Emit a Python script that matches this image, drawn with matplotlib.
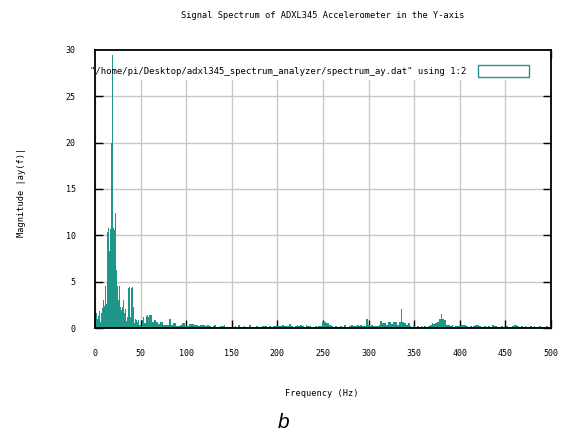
import numpy as np
import matplotlib
matplotlib.use("Agg")
import matplotlib.pyplot as plt
from matplotlib.patches import Rectangle

# --- Data ---

# 0..59 Hz, 1 Hz bins
freq_low = np.arange(0, 60, 1)
mag_low = [
    2.8, 1.5, 1.6, 1.0, 1.3, 1.8, 0.7, 1.6, 2.2, 3.0,
    2.4, 1.5, 4.5, 2.6, 10.4, 10.8, 8.3, 10.7, 20.0, 29.5,
    10.8, 10.6, 12.4, 9.9, 6.3, 4.5, 3.0, 4.5, 2.3, 1.9,
    2.3, 3.0, 1.6, 2.1, 1.4, 0.8, 1.2, 4.3, 4.4, 1.2,
    4.3, 4.4, 2.3, 0.5, 1.0, 0.7, 0.9, 0.6, 0.9, 0.3,
    0.3, 0.2, 0.9, 1.2, 0.5, 0.5, 1.3, 0.6, 1.4, 1.2,
]

# 60..498 Hz, 2 Hz bins
freq_high = np.arange(60, 500, 2)
mag_high = [
    1.4, 1.4, 0.7, 0.9, 0.6, 0.4, 0.7, 0.6, 0.3, 0.3,
    0.3, 1.0, 0.3, 0.5, 0.5, 0.25, 0.2, 0.3, 0.5, 0.5,
    0.2, 0.2, 0.4, 0.4, 0.4, 0.3, 0.3, 0.2, 0.3, 0.3,
    0.3, 0.2, 0.3, 0.2, 0.15, 0.2, 0.3, 0.15, 0.1, 0.2,
    0.2, 0.3, 0.15, 0.1, 0.1, 0.15, 0.1, 0.2, 0.1, 0.3,
    0.15, 0.1, 0.2, 0.15, 0.1, 0.3, 0.1, 0.15, 0.1, 0.2,
    0.1, 0.15, 0.2, 0.25, 0.2, 0.15, 0.2, 0.1, 0.2, 0.25,
    0.2, 0.25, 0.2, 0.3, 0.2, 0.25, 0.2, 0.4, 0.2, 0.15,
    0.2, 0.3, 0.25, 0.3, 0.2, 0.15, 0.3, 0.2, 0.25, 0.15,
    0.1, 0.2, 0.15, 0.2, 0.2, 0.7, 0.6, 0.5, 0.5, 0.3,
    0.2, 0.15, 0.2, 0.1, 0.15, 0.2, 0.1, 0.3, 0.15, 0.1,
    0.2, 0.3, 0.25, 0.2, 0.3, 0.2, 0.3, 0.25, 0.2, 1.0,
    0.3, 0.2, 0.3, 0.2, 0.25, 0.2, 0.3, 0.8, 0.5, 0.5,
    0.3, 0.7, 0.7, 0.4, 0.6, 0.6, 0.3, 0.7, 2.1, 0.7,
    0.5, 0.3, 0.5, 0.2, 0.1, 0.2, 0.15, 0.2, 0.1, 0.2,
    0.15, 0.2, 0.1, 0.2, 0.3, 0.5, 0.4, 0.5, 0.6, 1.0,
    1.5, 1.0, 0.9, 0.3, 0.3, 0.2, 0.3, 0.15, 0.2, 0.2,
    0.2, 0.3, 0.3, 0.3, 0.2, 0.15, 0.2, 0.1, 0.2, 0.3,
    0.3, 0.2, 0.15, 0.1, 0.2, 0.15, 0.2, 0.1, 0.3, 0.25,
    0.2, 0.1, 0.15, 0.2, 0.1, 0.15, 0.2, 0.1, 0.15, 0.2,
    0.35, 0.3, 0.2, 0.15, 0.2, 0.1, 0.2, 0.15, 0.1, 0.2,
    0.15, 0.2, 0.1, 0.15, 0.2, 0.1, 0.15, 0.1, 0.2, 0.15,
]

title = "Signal Spectrum of ADXL345 Accelerometer in the Y-axis"
key_label = '"/home/pi/Desktop/adxl345_spectrum_analyzer/spectrum_ay.dat" using 1:2'
x_ticks = np.arange(0, 501, 50)
y_ticks = np.arange(0, 31, 5)

teal = "#1f968a"
mono = "DejaVu Sans Mono"

# --- Plot ---
fig = plt.figure(figsize=(5.69, 4.33), dpi=100)
ax = fig.add_axes([95 / 569, 1 - 328 / 433, 456 / 569, 278 / 433])

ax.bar(freq_low, mag_low, width=1.0, color=teal, linewidth=0, zorder=3)
ax.bar(freq_high, mag_high, width=2.0, color=teal, linewidth=0, zorder=3)

ax.set_xlim(0, 500)
ax.set_ylim(0, 30)
ax.set_xticks(x_ticks)
ax.set_yticks(y_ticks)
ax.grid(True, color="#c8c8c8", linewidth=1.0, zorder=0)
ax.set_axisbelow(True)

ax.tick_params(direction="in", length=5.5, width=1.0, top=True, right=True,
               labelsize=6, colors="black")
ax.tick_params(axis="y", pad=14)
ax.tick_params(axis="x", pad=15)
for lab in ax.get_xticklabels() + ax.get_yticklabels():
    lab.set_family(mono)
for sp in ax.spines.values():
    sp.set_linewidth(1.3)
    sp.set_zorder(5)

# key area (gnuplot clears the grid behind the key)
ax.add_patch(Rectangle((0, 0.892), 1, 0.108, transform=ax.transAxes,
                       facecolor="white", edgecolor="none", zorder=1))
ax.text(0.815, 0.922, key_label, transform=ax.transAxes, ha="right", va="center",
        fontsize=6.5, family=mono, zorder=6)
ax.add_patch(Rectangle((0.840, 0.902), 0.112, 0.043, transform=ax.transAxes,
                       facecolor="none", edgecolor=teal, linewidth=1.0, zorder=6))

fig.text(323 / 569, 1 - 15 / 433, title, ha="center", va="center",
         fontsize=6.2, family=mono)
fig.text(322 / 569, 1 - 393 / 433, "Frequency (Hz)", ha="center", va="center",
         fontsize=6.2, family=mono)
fig.text(22 / 569, 1 - 192 / 433, "Magnitude |ay(f)|", ha="center", va="center",
         rotation=90, fontsize=6.2, family=mono)
fig.text(284 / 569, 1 - 422 / 433, "b", ha="center", va="center",
         fontsize=15, style="italic", family="Liberation Sans")

fig.savefig("out.png", dpi=100)
